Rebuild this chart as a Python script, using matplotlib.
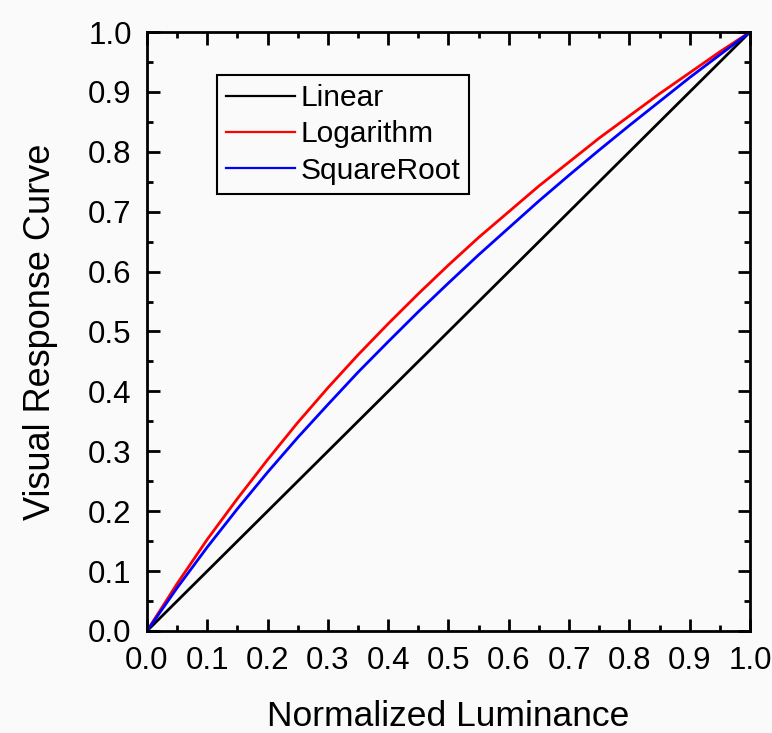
import matplotlib.pyplot as plt
from matplotlib.ticker import MultipleLocator

plt.rcParams['font.family'] = ['Liberation Sans', 'DejaVu Sans']

# values at steps of 0.05
lum = [0.0, 0.05, 0.1, 0.15, 0.2, 0.25, 0.3, 0.35, 0.4, 0.45, 0.5,
       0.55, 0.6, 0.65, 0.7, 0.75, 0.8, 0.85, 0.9, 0.95, 1.0]
linear = list(lum)
logarithm = [0.0, 0.079, 0.153, 0.221, 0.286, 0.348, 0.406, 0.461, 0.513, 0.563, 0.611,
             0.657, 0.700, 0.743, 0.783, 0.823, 0.860, 0.897, 0.932, 0.967, 1.0]
square_root = [0.0, 0.072, 0.140, 0.204, 0.265, 0.323, 0.378, 0.432, 0.483, 0.533, 0.581,
               0.628, 0.673, 0.718, 0.761, 0.803, 0.844, 0.884, 0.924, 0.962, 1.0]

bg = '#fafafa'
fig = plt.figure(figsize=(7.72, 7.33), dpi=100, facecolor=bg)
ax = fig.add_axes([0.1904, 0.1392, 0.7811, 0.8171], facecolor=bg)

ax.plot(lum, linear, color='black', lw=2.0, label='Linear')
ax.plot(lum, logarithm, color='#ff0000', lw=2.0, label='Logarithm')
ax.plot(lum, square_root, color='#0000ff', lw=2.0, label='SquareRoot')

ax.set_xlim(0, 1)
ax.set_ylim(0, 1)
ax.xaxis.set_major_locator(MultipleLocator(0.1))
ax.yaxis.set_major_locator(MultipleLocator(0.1))
ax.xaxis.set_minor_locator(MultipleLocator(0.05))
ax.yaxis.set_minor_locator(MultipleLocator(0.05))
ax.xaxis.set_major_formatter(lambda v, p: f'{v:.1f}')
ax.yaxis.set_major_formatter(lambda v, p: f'{v:.1f}')

ax.tick_params(which='both', direction='in', top=True, right=True, width=2.0)
ax.tick_params(which='major', length=9, labelsize=22.5, pad=11)
ax.tick_params(which='minor', length=4.5)
for s in ax.spines.values():
    s.set_linewidth(2.0)

ax.set_xlabel('Normalized Luminance', fontsize=25.5, labelpad=17)
ax.set_ylabel('Visual Response Curve', fontsize=26, labelpad=22)

leg = ax.legend(loc='upper left', bbox_to_anchor=(0.116, 0.928), fontsize=21.5,
                frameon=True, fancybox=False, edgecolor='black', facecolor=bg,
                framealpha=1, handlelength=2.3, handletextpad=0.2,
                labelspacing=0.28, borderpad=0.3, borderaxespad=0)
leg.get_frame().set_linewidth(1.5)
for h in leg.get_lines():
    h.set_linewidth(1.6)

fig.savefig('out.png', dpi=100, facecolor=bg)
